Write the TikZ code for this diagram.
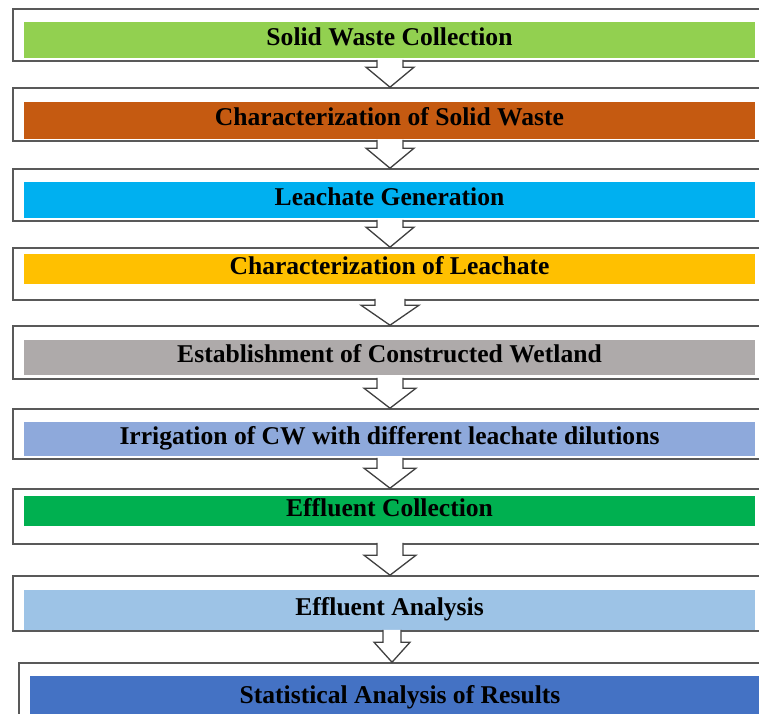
\documentclass[tikz,border=0pt]{standalone}
\usepackage{fontspec}
\setmainfont{Liberation Serif}
\usetikzlibrary{calc}
\definecolor{wastegreen}{HTML}{92D050}
\definecolor{rust}{HTML}{C55A11}
\definecolor{sky}{HTML}{00B0F0}
\definecolor{gold}{HTML}{FFC000}
\definecolor{wetgray}{HTML}{AEAAAA}
\definecolor{steel}{HTML}{8EA9DB}
\definecolor{effgreen}{HTML}{00B050}
\definecolor{paleblue}{HTML}{9DC3E6}
\definecolor{deepblue}{HTML}{4472C4}
\begin{document}
\begin{tikzpicture}[x=1pt, y=-1pt,
  every node/.style={font=\fontsize{25.6}{28}\selectfont\bfseries},
  frame/.style={rectangle, draw=black!65, line width=1.6pt, fill=white, minimum width=754pt, inner sep=0pt},
  bar/.style={rectangle, minimum width=731pt, inner sep=0pt, text height=16pt, text depth=6pt},
  flow/.style 2 args={draw=black!75, fill=white, line width=1.3pt, line join=miter,
    to path={($(\tikztostart)+(-#1,-2)$) -- ($(\tikztotarget)+(-#1,-20)$) -- ($(\tikztotarget)+(-#2,-20)$)
      -- (\tikztotarget) -- ($(\tikztotarget)+(#2,-20)$) -- ($(\tikztotarget)+(#1,-20)$) -- ($(\tikztostart)+(#1,-2)$)}}]
  \useasboundingbox (0,0) rectangle (759,713);
  \clip (0,0) rectangle (759,713);
  % outer frames
  \node[frame, minimum height=52pt] (fr1) at (390,35) {};
  \node[frame, minimum height=53pt] (fr2) at (390,114.5) {};
  \node[frame, minimum height=52pt] (fr3) at (390,195) {};
  \node[frame, minimum height=52pt] (fr4) at (390,274) {};
  \node[frame, minimum height=53pt] (fr5) at (390,352.5) {};
  \node[frame, minimum height=50pt] (fr6) at (390,434) {};
  \node[frame, minimum height=55pt] (fr7) at (390,516.5) {};
  \node[frame, minimum height=55pt] (fr8) at (390,603.5) {};
  \node[frame, minimum height=60pt, minimum width=742pt] (fr9) at (390,693) {};
  % coloured bars
  \node[bar, fill=wastegreen, minimum height=36pt] (b1) at (389.5,40) {Solid Waste Collection};
  \node[bar, fill=rust, minimum height=37pt] (b2) at (389.5,120.5) {Characterization of Solid Waste};
  \node[bar, fill=sky, minimum height=36pt] (b3) at (389.5,200) {Leachate Generation};
  \node[bar, fill=gold, minimum height=30pt] (b4) at (389.5,269) {Characterization of Leachate};
  \node[bar, fill=wetgray, minimum height=35pt] (b5) at (389.5,357.5) {Establishment of Constructed Wetland};
  \node[bar, fill=steel, minimum height=34pt] (b6) at (389.5,439) {Irrigation of CW with different leachate dilutions};
  \node[bar, fill=effgreen, minimum height=30pt] (b7) at (389.5,511) {Effluent Collection};
  \node[bar, fill=paleblue, minimum height=40pt] (b8) at (389.5,610) {Effluent Analysis};
  \node[bar, fill=deepblue, minimum height=44pt, minimum width=740pt] (b9) at (400,698) {Statistical Analysis of Results};
  % block arrows
  \draw[flow={13}{24}] (fr1.south) to (fr2.north);
  \draw[flow={13}{24}] (fr2.south) to (fr3.north);
  \draw[flow={13}{24}] (fr3.south) to (fr4.north);
  \draw[flow={15}{29}] (fr4.south) to (fr5.north);
  \draw[flow={13}{26}] (fr5.south) to (fr6.north);
  \draw[flow={13}{26}] (fr6.south) to (fr7.north);
  \draw[flow={13}{26}] (fr7.south) to (fr8.north);
  \draw[flow={9}{18}] ($(fr8.south)+(2,0)$) to ($(fr9.north)+(2,0)$);
\end{tikzpicture}
\end{document}
